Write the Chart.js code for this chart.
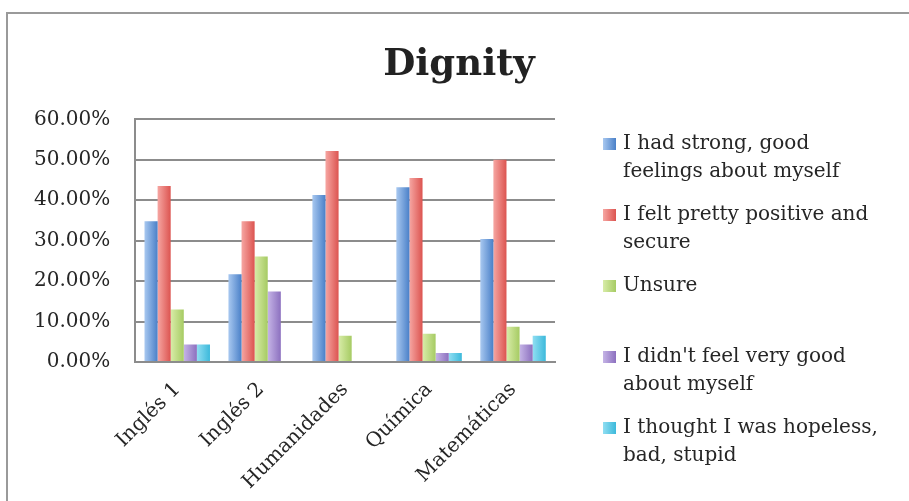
<!DOCTYPE html>
<html>
<head>
<meta charset="utf-8">
<script src="https://cdn.jsdelivr.net/npm/chart.js@4/dist/chart.umd.min.js"></script>
<style>
    html, body { margin: 0; padding: 0; background: #fff; overflow: hidden; }
    #frame { position: absolute; left: 6px; top: 12px; width: 1000px; height: 600px; border: 2px solid #9a9a9a; }
    #wrap { position: absolute; left: 0; top: 0; width: 909px; height: 501px; }
</style>
</head>
<body>
<div id="frame"></div>
<div id="wrap"><canvas id="chart" width="909" height="501"></canvas></div>
<script>
var categories = ["Inglés 1", "Inglés 2", "Humanidades", "Química", "Matemáticas"];
var seriesNames = [
    "I had strong, good\nfeelings about myself",
    "I felt pretty positive and\nsecure",
    "Unsure\n",
    "I didn't feel very good\nabout myself",
    "I thought I was hopeless,\nbad, stupid"
];
var strongGood = [34.8, 21.7, 41.3, 43.2, 30.4];
var prettyPositive = [43.5, 34.8, 52.2, 45.5, 50.0];
var unsure = [13.0, 26.1, 6.5, 7.0, 8.7];
var notVeryGood = [4.3, 17.4, 0, 2.2, 4.3];
var hopeless = [4.3, 0, 0, 2.2, 6.5];
var yTicks = [0, 10, 20, 30, 40, 50, 60];

var baseColors = ["#4a80c8", "#dc5450", "#a6cb63", "#8c70bf", "#3cb9db"];
var lightColors = ["#a8c8f0", "#f6a6a2", "#d8eca8", "#c5b4e6", "#90def2"];
var serif = "'DejaVu Serif', serif";
var textColor = "#262626";

// excel-ish horizontal shading on every bar
var barShading = {
    id: "barShading",
    beforeDatasetsDraw: function(chart) {
        var ctx = chart.ctx;
        chart.data.datasets.forEach(function(ds, i) {
            chart.getDatasetMeta(i).data.forEach(function(bar) {
                var g = ctx.createLinearGradient(bar.x - bar.width / 2, 0, bar.x + bar.width / 2, 0);
                g.addColorStop(0, lightColors[i]);
                g.addColorStop(1, baseColors[i]);
                bar.options.backgroundColor = g;
            });
        });
    }
};

// legend on the right, with wrapped labels like the excel one
var sideLegend = {
    id: "sideLegend",
    afterDraw: function(chart) {
        var ctx = chart.ctx;
        var lineH = 28, gap = 15;
        var x = chart.chartArea.right + 48;
        var y = 144;
        ctx.save();
        ctx.font = "20px " + serif;
        ctx.textBaseline = "middle";
        ctx.textAlign = "left";
        chart.data.datasets.forEach(function(ds, i) {
            var lines = ds.label.split("\n");
            var g = ctx.createLinearGradient(x, 0, x + 13, 0);
            g.addColorStop(0, lightColors[i]);
            g.addColorStop(1, baseColors[i]);
            ctx.fillStyle = g;
            ctx.fillRect(x, y - 6, 13, 12);
            ctx.fillStyle = textColor;
            lines.forEach(function(line, k) {
                ctx.fillText(line, x + 20, y + k * lineH);
            });
            y += lines.length * lineH + gap;
        });
        ctx.restore();
    }
};

var seriesData = [strongGood, prettyPositive, unsure, notVeryGood, hopeless];
var datasets = [];
for (var i = 0; i < seriesData.length; i++) {
    datasets.push({
        label: seriesNames[i],
        data: seriesData[i],
        backgroundColor: function(c) { return baseColors[c.datasetIndex]; },
        borderWidth: 0,
        categoryPercentage: 0.78,
        barPercentage: 1.0
    });
}

new Chart(document.getElementById("chart"), {
    type: "bar",
    data: { labels: categories, datasets: datasets },
    plugins: [barShading, sideLegend],
    options: {
        responsive: false,
        animation: false,
        layout: { padding: { left: 9, right: 0, bottom: 0, top: 0 } },
        plugins: {
            title: {
                display: true,
                text: "Dignity",
                color: "#222",
                font: { family: serif, size: 37, weight: "bold" },
                padding: { top: 43, bottom: 32 }
            },
            legend: { display: false },
            tooltip: { enabled: false }
        },
        scales: {
            x: {
                grid: { display: false },
                border: { display: true, color: "#8c8c8c", width: 2 },
                afterFit: function(scale) { scale.height = scale.height - 1; },
                ticks: {
                    color: textColor,
                    padding: 8,
                    font: { family: serif, size: 20 },
                    minRotation: 45,
                    maxRotation: 45
                }
            },
            y: {
                min: 0,
                max: 60,
                afterBuildTicks: function(axis) {
                    axis.ticks = yTicks.map(function(v) { return { value: v }; });
                },
                grid: { color: "#8c8c8c", lineWidth: 2, drawTicks: false },
                border: { display: true, color: "#8c8c8c", width: 2 },
                ticks: {
                    color: textColor,
                    padding: 25,
                    font: { family: serif, size: 20 },
                    callback: function(v) { return v.toFixed(2) + "%"; }
                }
            },
            // empty box on the right that keeps room for the legend
            legendRoom: {
                type: "linear",
                position: "right",
                display: true,
                grid: { display: false },
                border: { display: false },
                ticks: { display: false },
                afterFit: function(scale) { scale.width = 354; }
            }
        }
    }
});
</script>
</body>
</html>
